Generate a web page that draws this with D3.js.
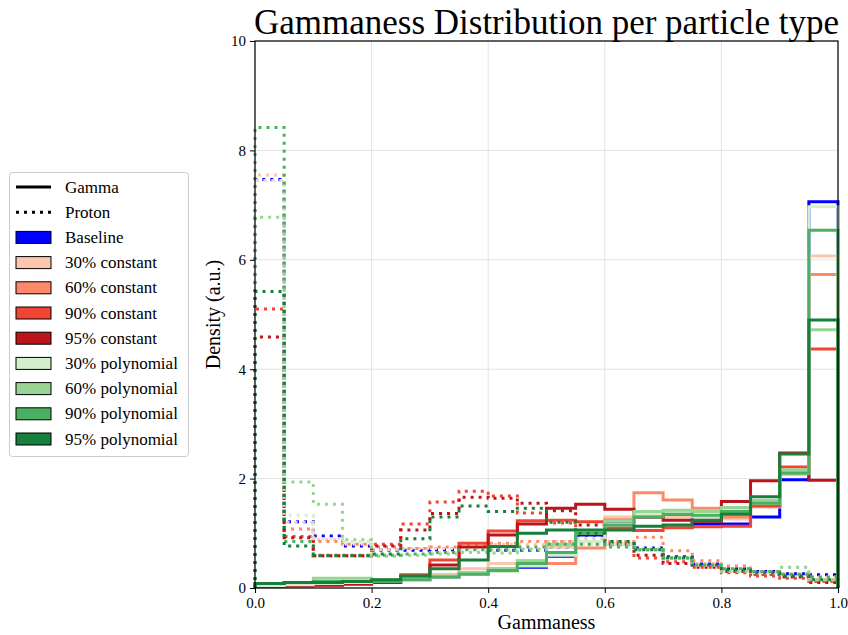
<!DOCTYPE html>
<html><head><meta charset="utf-8">
<script src="https://cdn.jsdelivr.net/npm/d3@7/dist/d3.min.js"></script>
<style>
body{margin:0;background:#fff}
svg{display:block}
text{font-family:"Liberation Serif","DejaVu Serif",serif}
</style>
</head><body>
<svg id="chart" width="848" height="635"></svg>
<script>
// ---------- data ----------
const binEdges = [0,0.05,0.1,0.15,0.2,0.25,0.3,0.35,0.4,0.45,0.5,0.55,0.6,0.65,0.7,0.75,0.8,0.85,0.9,0.95,1.0];
const models = ["Baseline","30% constant","60% constant","90% constant","95% constant",
                "30% polynomial","60% polynomial","90% polynomial","95% polynomial"];
const modelColors = ["#0000ff","#fcc5ae","#fc8a6a","#f14432","#bc141a",
                     "#d3eecd","#98d594","#4bb062","#157f3b"];
const xTicks = [0,0.2,0.4,0.6,0.8,1.0];
const yTicks = [0,2,4,6,8,10];

// gamma (solid) densities per bin
const gammaBaseline = [0.04,0.05,0.07,0.09,0.12,0.16,0.20,0.26,0.32,0.38,0.58,0.97,1.22,1.30,1.31,1.17,1.17,1.30,1.98,7.06];
const gammaC30 = [0.04,0.06,0.08,0.10,0.13,0.18,0.25,0.35,0.45,0.50,0.75,1.00,1.30,1.30,1.30,1.30,1.26,1.48,2.07,6.07];
const gammaC60 = [0.03,0.05,0.06,0.08,0.10,0.15,0.20,0.28,0.35,0.42,0.45,0.73,1.25,1.74,1.61,1.46,1.30,1.50,2.15,5.73];
const gammaC90 = [0.03,0.04,0.06,0.08,0.12,0.24,0.51,0.82,1.04,1.23,1.24,1.21,1.10,1.05,1.10,1.12,1.13,1.50,2.21,4.37];
const gammaC95 = [0.03,0.04,0.05,0.07,0.10,0.20,0.42,0.75,0.97,1.17,1.46,1.53,1.44,1.30,1.24,1.22,1.58,1.96,2.47,1.97];
const gammaP30 = [0.04,0.06,0.08,0.10,0.12,0.15,0.20,0.25,0.30,0.40,0.60,0.85,1.15,1.35,1.38,1.33,1.42,1.55,2.10,6.97];
const gammaP60 = [0.08,0.10,0.18,0.18,0.15,0.18,0.22,0.28,0.35,0.50,0.80,1.00,1.22,1.40,1.42,1.40,1.47,1.60,2.16,4.72];
const gammaP90 = [0.08,0.10,0.12,0.12,0.12,0.15,0.20,0.25,0.32,0.45,0.65,1.00,1.15,1.30,1.35,1.33,1.40,1.55,2.10,6.54];
const gammaP95 = [0.08,0.10,0.10,0.12,0.15,0.22,0.35,0.51,0.76,1.00,1.06,1.06,1.06,1.13,1.15,1.24,1.35,1.67,2.45,4.90];

// proton (dotted) densities per bin
const protonBaseline = [7.47,1.21,0.95,0.77,0.69,0.69,0.70,0.72,0.69,0.69,0.75,0.97,0.85,0.73,0.57,0.44,0.35,0.30,0.26,0.24];
const protonC30 = [7.55,1.20,0.88,0.80,0.70,0.72,0.72,0.72,0.80,0.80,0.85,0.90,0.82,0.70,0.55,0.45,0.35,0.28,0.25,0.20];
const protonC60 = [7.45,1.08,0.85,0.80,0.75,0.72,0.75,0.80,0.82,0.85,0.85,0.85,0.85,0.93,0.68,0.50,0.40,0.30,0.25,0.15];
const protonC90 = [5.10,0.94,0.59,0.59,0.80,1.17,1.57,1.77,1.68,1.37,1.19,1.00,0.80,0.55,0.48,0.38,0.28,0.22,0.18,0.12];
const protonC95 = [4.59,0.92,0.59,0.59,0.77,1.06,1.36,1.66,1.64,1.55,1.41,1.15,0.80,0.60,0.45,0.38,0.30,0.25,0.20,0.10];
const protonP30 = [7.45,1.33,0.90,0.85,0.60,0.60,0.65,0.68,0.70,0.72,0.78,0.80,0.80,0.72,0.55,0.42,0.30,0.28,0.38,0.15];
const protonP60 = [6.78,1.94,1.53,0.88,0.58,0.60,0.62,0.65,0.64,0.70,0.75,0.80,0.78,0.70,0.55,0.42,0.30,0.30,0.38,0.15];
const protonP90 = [8.42,0.85,0.60,0.60,0.60,0.62,0.65,0.70,0.70,0.75,0.80,0.80,0.75,0.70,0.55,0.42,0.35,0.30,0.25,0.20];
const protonP95 = [5.42,0.77,0.59,0.59,0.62,0.90,1.30,1.50,1.40,1.46,1.20,1.00,0.85,0.70,0.55,0.42,0.33,0.28,0.22,0.15];

const gammaSeries = [gammaBaseline,gammaC30,gammaC60,gammaC90,gammaC95,gammaP30,gammaP60,gammaP90,gammaP95];
const protonSeries = [protonBaseline,protonC30,protonC60,protonC90,protonC95,protonP30,protonP60,protonP90,protonP95];

// ---------- layout ----------
const svg = d3.select("#chart");
const L = 255, R = 838, T = 41, B = 588;
const x = d3.scaleLinear().domain([0,1]).range([L,R]);
const y = d3.scaleLinear().domain([0,10]).range([B,T]);

// grid
const grid = svg.append("g");
grid.selectAll("line.gx").data(xTicks).join("line")
  .attr("x1",d=>x(d)).attr("x2",d=>x(d)).attr("y1",T).attr("y2",B)
  .attr("stroke","#e3e3e3").attr("stroke-width",1);
grid.selectAll("line.gy").data(yTicks).join("line")
  .attr("x1",L).attr("x2",R).attr("y1",d=>y(d)).attr("y2",d=>y(d))
  .attr("stroke","#e3e3e3").attr("stroke-width",1);

// histograms
function stepPoints(vals){
  const pts = [[binEdges[0],0]];
  vals.forEach((v,i)=>{ pts.push([binEdges[i],v]); pts.push([binEdges[i+1],v]); });
  pts.push([binEdges[binEdges.length-1],0]);
  return pts;
}
const line = d3.line().x(d=>x(d[0])).y(d=>y(d[1]));
const hg = svg.append("g");
models.forEach((m,i)=>{
  hg.append("path").attr("d",line(stepPoints(gammaSeries[i])))
    .attr("fill","none").attr("stroke",modelColors[i]).attr("stroke-width",3)
    .attr("stroke-linejoin","miter");
  hg.append("path").attr("d",line(stepPoints(protonSeries[i])))
    .attr("fill","none").attr("stroke",modelColors[i]).attr("stroke-width",3)
    .attr("stroke-dasharray","3,5");
});

// frame
svg.append("rect").attr("x",L).attr("y",T).attr("width",R-L).attr("height",B-T)
  .attr("fill","none").attr("stroke","#000").attr("stroke-width",1.2);

// axes
const xAxis = svg.append("g").attr("transform",`translate(0,${B})`)
  .call(d3.axisBottom(x).tickValues(xTicks).tickFormat(d3.format(".1f")).tickSize(5).tickPadding(4));
const yAxis = svg.append("g").attr("transform",`translate(${L},0)`)
  .call(d3.axisLeft(y).tickValues(yTicks).tickFormat(d3.format("d")).tickSize(5).tickPadding(4));
[xAxis,yAxis].forEach(a=>{
  a.select(".domain").remove();
  a.selectAll("text").attr("font-family","Liberation Serif, serif").attr("font-size",15).attr("fill","#000");
  a.selectAll("line").attr("stroke","#000").attr("stroke-width",1);
});

// labels
svg.append("text").attr("x",(L+R)/2).attr("y",34).attr("text-anchor","middle")
  .attr("font-size",35).text("Gammaness Distribution per particle type");
svg.append("text").attr("x",(L+R)/2).attr("y",629).attr("text-anchor","middle")
  .attr("font-size",20).text("Gammaness");
svg.append("text").attr("transform",`translate(220,${(T+B)/2}) rotate(-90)`).attr("text-anchor","middle")
  .attr("font-size",20).text("Density (a.u.)");

// legend
const lg = svg.append("g");
lg.append("rect").attr("x",9.5).attr("y",172.5).attr("width",179).attr("height",284).attr("rx",3)
  .attr("fill","#fff").attr("fill-opacity",0.8).attr("stroke","#cccccc").attr("stroke-width",1);
const rowY = i => 187 + i*25.2;
lg.append("line").attr("x1",16).attr("x2",51).attr("y1",rowY(0)).attr("y2",rowY(0))
  .attr("stroke","#000").attr("stroke-width",3);
lg.append("line").attr("x1",16).attr("x2",51).attr("y1",rowY(1)).attr("y2",rowY(1))
  .attr("stroke","#000").attr("stroke-width",3).attr("stroke-dasharray","3,5");
const legendLabels = ["Gamma","Proton"].concat(models);
legendLabels.forEach((t,i)=>{
  lg.append("text").attr("x",65).attr("y",rowY(i)+5.5).attr("font-size",17).text(t);
});
models.forEach((m,i)=>{
  lg.append("rect").attr("x",16).attr("y",rowY(i+2)-6).attr("width",35).attr("height",12)
    .attr("fill",modelColors[i]).attr("stroke","#000").attr("stroke-width",1);
});
</script>
</body></html>
